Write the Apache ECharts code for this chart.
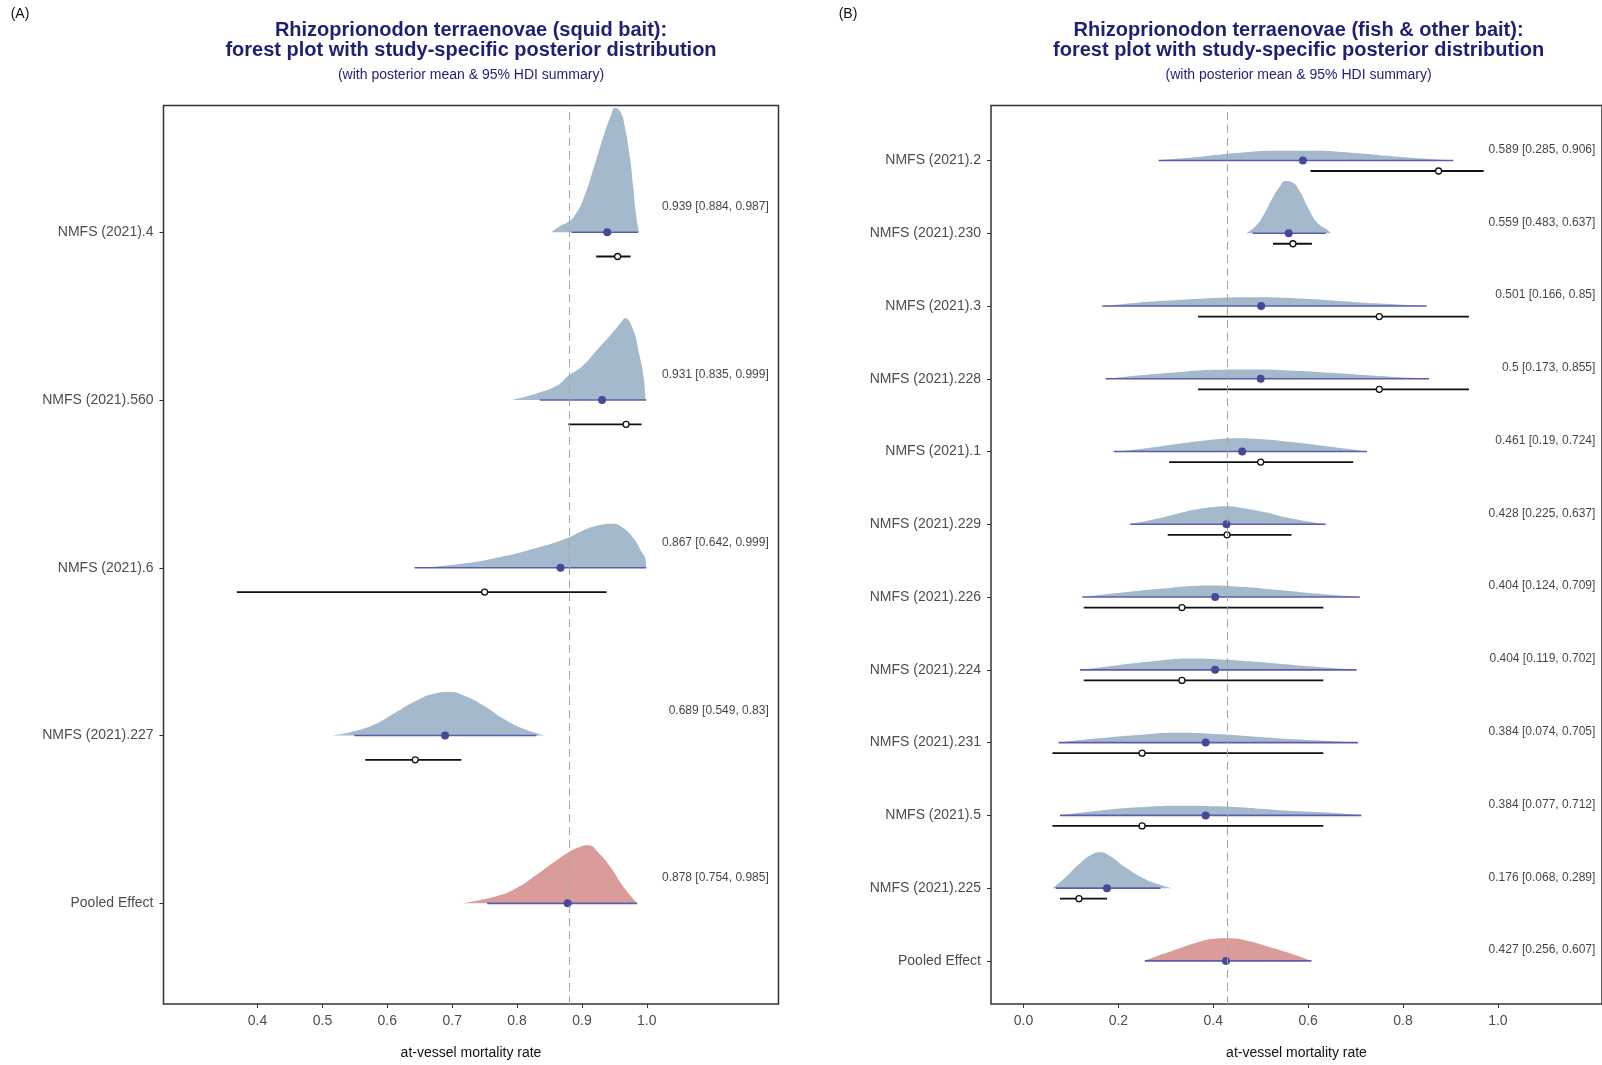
<!DOCTYPE html>
<html>
<head>
<meta charset="utf-8">
<script src="https://cdn.jsdelivr.net/npm/echarts@6/dist/echarts.min.js"></script>
<style>
html,body{margin:0;padding:0;background:#fff;}
#chart{width:1602px;height:1065px;}
</style>
</head>
<body>
<div id="chart"></div>
<script>
// ---------- DATA: panel A (squid bait) ----------
const leftStudies = ['NMFS (2021).4','NMFS (2021).560','NMFS (2021).6','NMFS (2021).227','Pooled Effect'];
const leftMean = [0.939, 0.931, 0.867, 0.689, 0.878];
const leftLo   = [0.884, 0.835, 0.642, 0.549, 0.754];
const leftHi   = [0.987, 0.999, 0.999, 0.83, 0.985];
const leftObs   = [0.955, 0.968, 0.75, 0.643, null];
const leftObsLo = [0.922, 0.879, 0.368, 0.566, null];
const leftObsHi = [0.975, 0.992, 0.938, 0.714, null];
const leftTicks = [0.4, 0.5, 0.6, 0.7, 0.8, 0.9, 1.0];
// posterior density: [x, relative height]
const densL_4   = [[0.853,0],[0.866,0.036],[0.8785,0.060],[0.888,0.095],[0.902,0.195],[0.919,0.394],[0.935,0.593],[0.9445,0.692],[0.951,0.742],[0.960,0.712],[0.966,0.632],[0.973,0.473],[0.979,0.274],[0.983,0.115],[0.988,0]];
const densL_560 = [[0.7925,0],[0.831,0.040],[0.863,0.089],[0.8785,0.143],[0.900,0.199],[0.9255,0.308],[0.9445,0.388],[0.962,0.470],[0.966,0.487],[0.979,0.418],[0.988,0.278],[0.995,0.139],[0.998,0]];
const densL_6   = [[0.642,0],[0.706,0.020],[0.769,0.060],[0.831,0.119],[0.8785,0.179],[0.900,0.219],[0.9255,0.253],[0.948,0.263],[0.963,0.239],[0.979,0.179],[0.9915,0.099],[0.998,0.050],[0.999,0]];
const densL_227 = [[0.514,0],[0.549,0.026],[0.580,0.066],[0.6115,0.135],[0.643,0.205],[0.674,0.251],[0.696,0.259],[0.718,0.239],[0.750,0.175],[0.781,0.095],[0.8125,0.036],[0.844,0]];
const densL_pool= [[0.715,0],[0.769,0.044],[0.800,0.093],[0.831,0.173],[0.863,0.263],[0.8785,0.302],[0.894,0.332],[0.910,0.346],[0.9255,0.302],[0.9445,0.213],[0.963,0.103],[0.985,0]];
const leftDens = [densL_4, densL_560, densL_6, densL_227, densL_pool];

// ---------- DATA: panel B (fish & other bait) ----------
const rightStudies = ['NMFS (2021).2','NMFS (2021).230','NMFS (2021).3','NMFS (2021).228','NMFS (2021).1','NMFS (2021).229','NMFS (2021).226','NMFS (2021).224','NMFS (2021).231','NMFS (2021).5','NMFS (2021).225','Pooled Effect'];
const rightMean = [0.589,0.559,0.501,0.5,0.461,0.428,0.404,0.404,0.384,0.384,0.176,0.427];
const rightLo   = [0.285,0.483,0.166,0.173,0.19,0.225,0.124,0.119,0.074,0.077,0.068,0.256];
const rightHi   = [0.906,0.637,0.85,0.855,0.724,0.637,0.709,0.702,0.705,0.712,0.289,0.607];
const rightObs   = [0.875,0.568,0.75,0.75,0.5,0.429,0.334,0.334,0.25,0.25,0.117,null];
const rightObsLo = [0.605,0.526,0.368,0.368,0.307,0.304,0.127,0.127,0.061,0.061,0.077,null];
const rightObsHi = [0.970,0.608,0.939,0.939,0.695,0.565,0.632,0.632,0.632,0.632,0.176,null];
const rightTicks = [0.0, 0.2, 0.4, 0.6, 0.8, 1.0];
const densR_2   = [[0.284,0],[0.366,0.046],[0.449,0.101],[0.532,0.133],[0.615,0.133],[0.698,0.101],[0.781,0.055],[0.864,0.018],[0.906,0]];
const densR_230 = [[0.470,0],[0.490,0.101],[0.507,0.261],[0.5235,0.467],[0.540,0.640],[0.5526,0.718],[0.565,0.704],[0.582,0.581],[0.598,0.375],[0.619,0.146],[0.640,0.046],[0.648,0]];
const densR_3   = [[0.168,0],[0.241,0.046],[0.324,0.082],[0.407,0.110],[0.490,0.119],[0.573,0.105],[0.6565,0.073],[0.740,0.037],[0.852,0]];
const densR_228 = [[0.174,0],[0.241,0.046],[0.324,0.091],[0.407,0.124],[0.490,0.128],[0.573,0.110],[0.6565,0.078],[0.740,0.041],[0.856,0]];
const densR_1   = [[0.191,0],[0.241,0.032],[0.324,0.105],[0.407,0.169],[0.449,0.183],[0.490,0.174],[0.573,0.124],[0.6565,0.059],[0.7255,0]];
const densR_229 = [[0.224,0],[0.2825,0.078],[0.324,0.146],[0.366,0.206],[0.407,0.242],[0.428,0.247],[0.457,0.229],[0.507,0.169],[0.557,0.091],[0.638,0]];
const densR_226 = [[0.123,0],[0.199,0.055],[0.2825,0.110],[0.366,0.156],[0.391,0.160],[0.449,0.146],[0.532,0.101],[0.615,0.050],[0.712,0]];
const densR_224 = [[0.120,0],[0.199,0.064],[0.2825,0.124],[0.345,0.156],[0.407,0.146],[0.490,0.110],[0.573,0.064],[0.705,0]];
const densR_231 = [[0.073,0],[0.158,0.059],[0.241,0.105],[0.324,0.137],[0.407,0.119],[0.490,0.082],[0.573,0.046],[0.705,0]];
const densR_5   = [[0.077,0],[0.158,0.064],[0.241,0.110],[0.324,0.133],[0.407,0.124],[0.490,0.096],[0.573,0.059],[0.6565,0.032],[0.712,0]];
const densR_225 = [[0.062,0],[0.0665,0.027],[0.091,0.165],[0.116,0.325],[0.141,0.453],[0.162,0.494],[0.183,0.439],[0.216,0.279],[0.258,0.119],[0.291,0.041],[0.312,0]];
const densR_pool= [[0.253,0],[0.2825,0.069],[0.324,0.160],[0.366,0.252],[0.407,0.307],[0.432,0.311],[0.474,0.274],[0.515,0.197],[0.557,0.114],[0.607,0]];
const rightDens = [densR_2,densR_230,densR_3,densR_228,densR_1,densR_229,densR_226,densR_224,densR_231,densR_5,densR_225,densR_pool];

// ---------- STYLE ----------
const RIDGE = '#a4b9cc', POOL = '#da9b9b', HDI = '#5c5cae', DOT = '#48489a';
const GREY = '#4d4d4d', TITLE = '#1f1f73';
const OBS_OFF = 0.145, LAB_OFF = 0.15;
const FONT = '"Liberation Sans", Arial, sans-serif';

function panelSeries(p, studies, mean, lo, hi, obs, olo, ohi, dens, labelX) {
  const n = studies.length;
  const s = [];
  const ax = {xAxisIndex: p, yAxisIndex: p};
  dens.forEach((d, i) => {
    const b = n - i;
    const pooled = i === n - 1;
    s.push(Object.assign({
      type: 'line', data: d.map(q => [q[0], b + q[1]]), smooth: 0.5,
      symbol: 'none', lineStyle: {width: 0}, z: 2,
      areaStyle: {color: pooled ? POOL : RIDGE, opacity: 1, origin: b}
    }, ax));
  });
  studies.forEach((name, i) => {
    const b = n - i;
    s.push(Object.assign({type: 'line', data: [[lo[i], b], [hi[i], b]], symbol: 'none', z: 3,
      lineStyle: {color: HDI, width: 1.6}}, ax));
    if (obs[i] !== null) {
      s.push(Object.assign({type: 'line', data: [[olo[i], b - OBS_OFF], [ohi[i], b - OBS_OFF]], symbol: 'none', z: 3,
        lineStyle: {color: '#111', width: 1.8}}, ax));
    }
  });
  s.push(Object.assign({type: 'scatter', z: 4, symbolSize: 8, itemStyle: {color: DOT, opacity: 1},
    data: mean.map((m, i) => [m, n - i])}, ax));
  s.push(Object.assign({type: 'scatter', z: 5, symbolSize: 6,
    itemStyle: {color: '#fff', borderColor: '#111', borderWidth: 1.3, opacity: 1},
    data: obs.map((o, i) => o === null ? null : [o, n - i - OBS_OFF]).filter(v => v)}, ax));
  s.push(Object.assign({type: 'scatter', z: 6, symbolSize: 0,
    data: mean.map((m, i) => ({value: [labelX, n - i + LAB_OFF], txt: `${m} [${lo[i]}, ${hi[i]}]`})),
    label: {show: true, position: 'left', distance: 0, color: '#111', fontSize: 12,
      fontFamily: FONT, formatter: pr => pr.data.txt},
    markLine: {silent: true, symbol: ['none', 'none'], label: {show: false}, z: 7,
      lineStyle: {color: '#a6a6a6', width: 1, type: [8, 5]},
      data: [{xAxis: mean[n - 1]}]}
  }, ax));
  return s;
}

function yAxisFor(p, studies, min, max) {
  const n = studies.length;
  return {
    gridIndex: p, type: 'value', min: min, max: max,
    axisLine: {show: false, onZero: false}, splitLine: {show: false},
    axisTick: {show: true, length: 4, customValues: studies.map((_, i) => i + 1), lineStyle: {color: '#333', width: 1}},
    axisLabel: {customValues: studies.map((_, i) => i + 1), margin: 10, fontSize: 14, color: GREY, fontFamily: FONT,
      formatter: v => studies[n - Math.round(v)]}
  };
}
function xAxisFor(p, ticks, min, max) {
  return {
    gridIndex: p, type: 'value', min: min, max: max,
    axisLine: {show: false, onZero: false}, splitLine: {show: false},
    axisTick: {show: true, length: 4, customValues: ticks, lineStyle: {color: '#333', width: 1}},
    axisLabel: {customValues: ticks, margin: 10, fontSize: 14, color: GREY, fontFamily: FONT,
      formatter: v => Number(v).toFixed(1)},
    name: 'at-vessel mortality rate', nameLocation: 'middle', nameGap: 42,
    nameTextStyle: {fontSize: 14, color: '#111', fontFamily: FONT}
  };
}

const chart = echarts.init(document.getElementById('chart'), null, {renderer: 'canvas'});
const titleText = (x, y, t, font) => ({type: 'text', x: x, y: y,
  style: {text: t, font: font, fill: TITLE, textAlign: 'center', textVerticalAlign: 'middle'}});
const option = {
  animation: false,
  backgroundColor: '#fff',
  grid: [
    {left: 163.5, right: 823.5, top: 105.5, bottom: 60.5, show: true, borderColor: '#333', borderWidth: 1.5, backgroundColor: 'transparent', containLabel: false},
    {left: 991, right: -4, top: 105.5, bottom: 60.5, show: true, borderColor: '#333', borderWidth: 1.5, backgroundColor: 'transparent', containLabel: false}
  ],
  xAxis: [xAxisFor(0, leftTicks, 0.255, 1.203), xAxisFor(1, rightTicks, -0.0685, 1.2195)],
  yAxis: [yAxisFor(0, leftStudies, 0.40, 5.755), yAxisFor(1, rightStudies, 0.408, 12.755)],
  series: [].concat(
    panelSeries(0, leftStudies, leftMean, leftLo, leftHi, leftObs, leftObsLo, leftObsHi, leftDens, 1.188),
    panelSeries(1, rightStudies, rightMean, rightLo, rightHi, rightObs, rightObsLo, rightObsHi, rightDens, 1.2055)
  ),
  graphic: [
    {type: 'text', x: 20, y: 14, style: {text: '(A)', font: '14px ' + FONT, fill: '#111', textAlign: 'center', textVerticalAlign: 'middle'}},
    {type: 'text', x: 848, y: 14, style: {text: '(B)', font: '14px ' + FONT, fill: '#111', textAlign: 'center', textVerticalAlign: 'middle'}},
    titleText(471, 30, 'Rhizoprionodon terraenovae (squid bait):', 'bold 20px ' + FONT),
    titleText(471, 50.5, 'forest plot with study-specific posterior distribution', 'bold 20px ' + FONT),
    titleText(471, 75, '(with posterior mean & 95% HDI summary)', '14px ' + FONT),
    titleText(1298.6, 30, 'Rhizoprionodon terraenovae (fish & other bait):', 'bold 20px ' + FONT),
    titleText(1298.6, 50.5, 'forest plot with study-specific posterior distribution', 'bold 20px ' + FONT),
    titleText(1298.6, 75, '(with posterior mean & 95% HDI summary)', '14px ' + FONT)
  ]
};
chart.setOption(option);
</script>
</body>
</html>
